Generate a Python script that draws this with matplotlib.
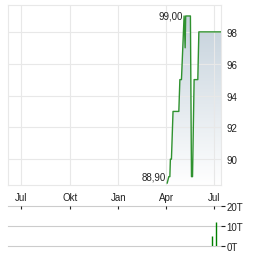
import numpy as np
import matplotlib.pyplot as plt
import matplotlib.dates as mdates
from matplotlib.patches import Polygon
import datetime as dt

plt.rcParams['font.family'] = ['Liberation Sans', 'DejaVu Sans']

# price data (step-like)
dates = ['2024-04-03', '2024-04-06', '2024-04-08', '2024-04-09', '2024-04-11',
         '2024-04-14', '2024-04-25', '2024-04-27', '2024-04-30', '2024-05-05',
         '2024-05-07', '2024-05-08', '2024-05-17', '2024-05-19', '2024-05-21',
         '2024-05-24', '2024-05-31', '2024-06-02', '2024-07-14']
prices = [88.5, 88.9, 88.9, 90.0, 90.0,
          93.0, 93.0, 95.0, 95.0, 99.0,
          97.0, 99.0, 99.0, 88.9, 88.9,
          95.0, 95.0, 98.0, 98.0]

# volume data
vol_dates = ['2024-06-27', '2024-07-04']
volumes = [5.2, 12.2]

month_ticks = ['2023-07-01', '2023-10-01', '2024-01-01', '2024-04-01', '2024-07-01']
month_labels = ['Jul', 'Okt', 'Jan', 'Apr', 'Jul']
y_ticks = [90, 92, 94, 96, 98]
vol_ticks = [0, 10, 20]
vol_labels = ['0T', '10T', '20T']

x = mdates.date2num([dt.date.fromisoformat(d) for d in dates])
xv = mdates.date2num([dt.date.fromisoformat(d) for d in vol_dates])
xt = mdates.date2num([dt.date.fromisoformat(d) for d in month_ticks])
x0 = mdates.date2num(dt.date(2023, 6, 6))
x1 = mdates.date2num(dt.date(2024, 7, 14))
ylo, yhi = 88.375, 99.69

W, H = 264, 255
fig = plt.figure(figsize=(W / 100, H / 100), dpi=100)
ax = fig.add_axes([8 / W, 1 - 186 / H, 213 / W, 180 / H])

# gradient fill under the line
grad = np.linspace(0, 1, 256).reshape(-1, 1)
top = np.array([0.77, 0.82, 0.86])
bot = np.array([1.0, 1.0, 1.0])
img = (bot + (top - bot) * grad)[:, None, :].repeat(2, axis=1)
im = ax.imshow(img, extent=[x0, x1, ylo, 99.0], origin='lower', aspect='auto', zorder=1)
poly = Polygon(np.column_stack([np.r_[x[0], x, x[-1]], np.r_[ylo, prices, ylo]]),
               closed=True, facecolor='none', edgecolor='none')
ax.add_patch(poly)
im.set_clip_path(poly)

ax.plot(x, prices, color='#2f922f', lw=1.0, zorder=3)

ax.text(x[9] - 3, 99.0, '99,00', ha='right', va='center', fontsize=7, color='#222222')
ax.text(x[0] - 3, 88.9, '88,90', ha='right', va='center', fontsize=7, color='#222222')

ax.set_xlim(x0, x1)
ax.set_ylim(ylo, yhi)
ax.set_xticks(xt)
ax.set_xticklabels(month_labels)
ax.set_yticks(y_ticks)
ax.yaxis.tick_right()
ax.tick_params(length=0, labelsize=7, colors='#222222')
ax.tick_params(axis='y', pad=4)
ax.tick_params(axis='x', pad=5)
ax.grid(True, color='#e8e8e8', lw=0.8)
for s in ax.spines.values():
    s.set_color('#e8e8e8')
    s.set_linewidth(0.8)

# volume panel
ax2 = fig.add_axes([8 / W, 1 - 247 / H, 213 / W, 40 / H])
ax2.vlines(xv, 0, volumes, color='#008000', lw=1.0, zorder=3)
ax2.set_xlim(x0, x1)
ax2.set_ylim(0, 20)
ax2.set_yticks(vol_ticks)
ax2.set_yticklabels(vol_labels)
ax2.yaxis.tick_right()
ax2.tick_params(axis='y', length=3, width=0.8, colors='#222222', labelsize=7, pad=1)
ax2.set_xticks(xt)
ax2.xaxis.tick_top()
ax2.tick_params(axis='x', direction='in', length=2, width=0.8, color='#222222', labeltop=False)
for v in vol_ticks:
    ax2.axhline(v, color='#cccccc', lw=0.8, zorder=1, clip_on=False)
for s in ax2.spines.values():
    s.set_visible(False)

fig.savefig('out.png', dpi=100)
